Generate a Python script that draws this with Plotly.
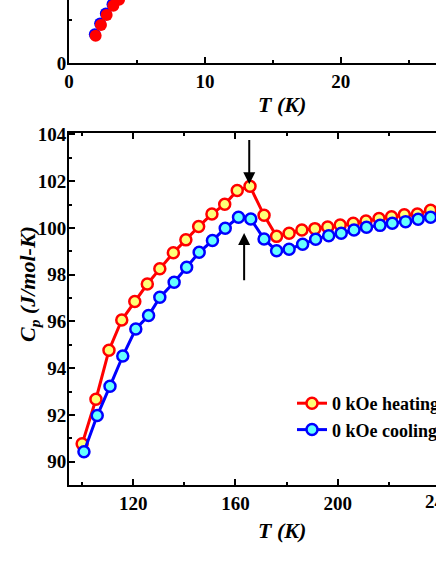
import plotly.graph_objects as go

# low-T panel (only its bottom part is visible)
low_t_heat = [1.96, 2.35, 2.77, 3.26, 3.68, 4.10]
low_cp_heat = [0.317, 0.442, 0.558, 0.666, 0.735, 0.84]
low_t_cool = [1.90, 2.29, 2.71, 3.20, 3.62, 4.04]
low_cp_cool = [0.335, 0.46, 0.576, 0.684, 0.753, 0.86]

# main panel, 0 kOe
t_heat = [100.0, 105.4, 110.5, 115.5, 120.6, 125.5, 130.4, 135.7, 140.6, 145.6,
          150.8, 155.8, 160.7, 165.7, 171.2, 176.1, 181.0, 186.0, 191.1, 196.1,
          201.0, 206.1, 211.1, 216.2, 221.1, 226.1, 231.2, 236.4, 241.4]
cp_heat = [90.76, 92.67, 94.77, 96.06, 96.85, 97.60, 98.25, 98.94, 99.49, 100.06,
           100.60, 101.01, 101.60, 101.78, 100.54, 99.64, 99.77, 99.91, 99.97, 100.04,
           100.13, 100.20, 100.30, 100.40, 100.48, 100.56, 100.60, 100.76, 100.82]
t_cool = [100.7, 105.9, 110.9, 115.9, 121.0, 126.0, 130.4, 136.0, 140.9, 145.8,
          151.0, 156.0, 161.2, 166.0, 171.2, 176.1, 181.0, 186.3, 191.4, 196.5,
          201.4, 206.4, 211.3, 216.6, 221.4, 226.6, 231.5, 236.4, 241.5]
cp_cool = [90.42, 91.97, 93.23, 94.52, 95.68, 96.25, 97.03, 97.68, 98.32, 98.96,
           99.46, 99.99, 100.46, 100.38, 99.53, 99.02, 99.09, 99.30, 99.52, 99.67,
           99.77, 99.91, 100.03, 100.11, 100.20, 100.27, 100.37, 100.46, 100.52]

W, H = 436, 564
L, B = 69, 79
pw, ph = W - L, H - B
X_RANGE = [94.85, 238.5]


def px_x(p):
    return (p - L) / pw


def px_y(p):
    return (H - B - p) / ph


FONT = "Liberation Serif"
tick_font = dict(family=FONT, size=19, color="black", weight="bold")

fig = go.Figure()

fig.add_trace(go.Scatter(
    x=low_t_cool, y=low_cp_cool, xaxis="x2", yaxis="y2", mode="markers",
    marker=dict(size=12, color="#0000FF"), showlegend=False))
fig.add_trace(go.Scatter(
    x=low_t_heat, y=low_cp_heat, xaxis="x2", yaxis="y2", mode="markers",
    marker=dict(size=12, color="#FF0000"), showlegend=False))

fig.add_trace(go.Scatter(
    x=t_heat, y=cp_heat, name="0 kOe heating", mode="lines+markers",
    line=dict(color="#FF0000", width=3),
    marker=dict(size=11, color="#FFFF77", line=dict(color="#FF0000", width=2.5))))
fig.add_trace(go.Scatter(
    x=t_cool, y=cp_cool, name="0 kOe cooling", mode="lines+markers",
    line=dict(color="#0000FF", width=3),
    marker=dict(size=11, color="#66FFFF", line=dict(color="#0000FF", width=2.5))))

axis_common = dict(showline=True, linecolor="black", linewidth=2, showgrid=False,
                   zeroline=False, ticks="inside", ticklen=6, tickwidth=2,
                   tickcolor="black", tickfont=tick_font)

fig.update_layout(
    width=W, height=H,
    margin=dict(l=L, r=0, t=0, b=B, autoexpand=False),
    plot_bgcolor="white", paper_bgcolor="white",
    xaxis=dict(axis_common, range=X_RANGE, domain=[0, 1], anchor="y",
               tickvals=[120, 160, 200, 240], mirror="ticks",
               minor=dict(tickvals=[100, 140, 180, 220], ticks="inside", ticklen=3,
                          tickwidth=2, tickcolor="black")),
    yaxis=dict(axis_common, range=[89.0, 104.05], domain=[0, px_y(133.3)], anchor="x",
               dtick=2, ticklabelstandoff=-3,
               minor=dict(dtick=1, ticks="inside", ticklen=3, tickwidth=2,
                          tickcolor="black")),
    xaxis2=dict(axis_common, range=[0, 27], domain=[0, 1], anchor="y2",
                dtick=10,
                minor=dict(dtick=5, ticks="inside", ticklen=3, tickwidth=2,
                           tickcolor="black")),
    yaxis2=dict(axis_common, range=[0, 0.733], domain=[px_y(63), 1], anchor="x2",
                tickvals=[0], ticklabelstandoff=-3,
                minor=dict(tickvals=[0.5], ticks="inside", ticklen=3, tickwidth=2,
                           tickcolor="black")),
    legend=dict(x=px_x(292), y=px_y(385), xanchor="left", yanchor="top",
                bgcolor="rgba(0,0,0,0)",
                font=dict(family=FONT, size=18, color="black", weight="bold"),
                tracegroupgap=0),
    showlegend=True,
)

title_font = dict(family=FONT, size=22, color="black")
fig.add_annotation(text="<b><i>T (K)</i></b>", xref="paper", yref="paper",
                   x=px_x(281.7), y=px_y(104), xanchor="center", yanchor="middle",
                   showarrow=False, font=title_font)
fig.add_annotation(text="<b><i>T (K)</i></b>", xref="paper", yref="paper",
                   x=px_x(281.7), y=px_y(530), xanchor="center", yanchor="middle",
                   showarrow=False, font=title_font)
fig.add_annotation(text="<b><i>C<sub>p</sub> (J/mol-K)</i></b>", xref="paper",
                   yref="paper", x=px_x(29), y=px_y(284), textangle=-90,
                   xanchor="center", yanchor="middle",
                   showarrow=False, font=title_font)
# the 240 tick label sits just past the cropped right edge
fig.add_annotation(text="240", xref="paper", yref="paper",
                   x=px_x(424), y=px_y(501), xanchor="left", yanchor="middle",
                   showarrow=False, font=tick_font, borderpad=0)

# arrows marking the transition
fig.add_annotation(x=165.4, y=101.87, ax=165.4, ay=103.83, xref="x", yref="y",
                   axref="x", ayref="y", showarrow=True, arrowhead=2,
                   arrowsize=1.2, arrowwidth=2, arrowcolor="black", text="")
fig.add_annotation(x=163.4, y=99.78, ax=163.4, ay=97.7, xref="x", yref="y",
                   axref="x", ayref="y", showarrow=True, arrowhead=2,
                   arrowsize=1.2, arrowwidth=2, arrowcolor="black", text="")

# page body has a default 8px margin; drop it so the figure fills the window
fig.write_html("out.html", config={"displayModeBar": False},
               post_script="document.body.style.margin = '0';")
